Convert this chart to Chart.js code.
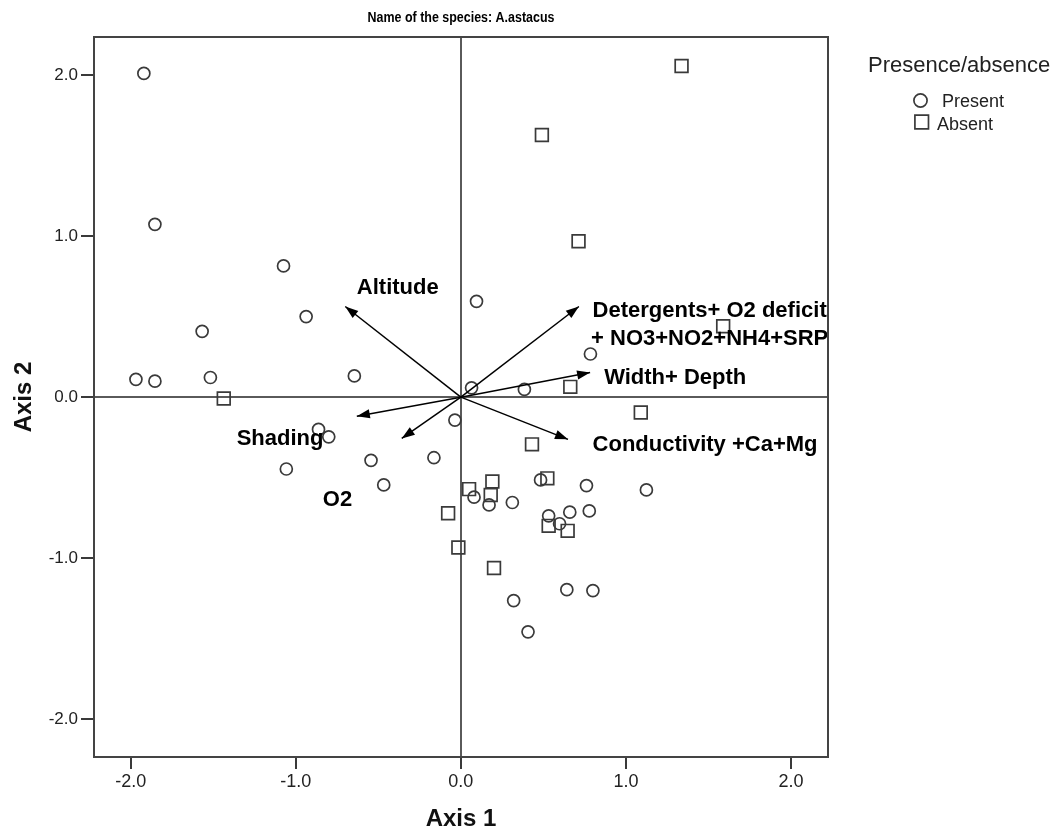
<!DOCTYPE html>
<html>
<head>
<meta charset="utf-8">
<script src="https://cdn.jsdelivr.net/npm/chart.js@4/dist/chart.umd.min.js"></script>
<style>
  html, body { margin: 0; padding: 0; background: #fff; }
  #wrap { width: 1061px; height: 833px; }
</style>
</head>
<body>
<div id="wrap"><canvas id="c" width="1061" height="833"></canvas></div>
<script>
// ---------- data ----------
const chartTitle = 'Name of the species: A.astacus';
const xTitle = 'Axis 1';
const yTitle = 'Axis 2';
const legendTitle = 'Presence/absence';
const seriesNames = ['Present', 'Absent'];

const xTicks = [-2, -1, 0, 1, 2];
const xTickLabels = ['-2.0', '-1.0', '0.0', '1.0', '2.0'];
const yTicks = [-2, -1, 0, 1, 2];
const yTickLabels = ['-2.0', '-1.0', '0.0', '1.0', '2.0'];

const presentX = [-1.920, -1.853, -1.074, -0.937, -1.567, -1.968, -1.853, -1.517, -0.645, 0.095,
                  0.065, 0.785, 0.385, -0.036, -0.862, -0.800, -0.544, -0.163, -1.057, -0.467,
                  0.080, 0.171, 0.312, 0.483, 0.761, 1.124, 0.532, 0.660, 0.778, 0.598,
                  0.642, 0.800, 0.320, 0.407];
const presentY = [2.010, 1.073, 0.815, 0.500, 0.409, 0.111, 0.099, 0.122, 0.132, 0.595,
                  0.058, 0.268, 0.048, -0.142, -0.200, -0.246, -0.392, -0.376, -0.446, -0.545,
                  -0.621, -0.669, -0.654, -0.514, -0.549, -0.576, -0.737, -0.714, -0.706, -0.786,
                  -1.195, -1.201, -1.263, -1.457];

const absentX = [1.337, 0.491, 0.713, 1.589, 0.663, 1.090, 0.431, 0.191, 0.050, 0.181,
                 0.524, -0.077, 0.532, 0.647, -0.015, 0.201, -1.436];
const absentY = [2.056, 1.628, 0.968, 0.440, 0.064, -0.095, -0.293, -0.524, -0.571, -0.607,
                 -0.504, -0.721, -0.799, -0.830, -0.933, -1.061, -0.008];

// environmental vectors (from origin)
const vectorNames = ['Altitude', 'Detergents', 'Width+Depth', 'Conductivity', 'Shading', 'O2'];
const vectorX = [-0.700, 0.715, 0.783, 0.649, -0.630, -0.358];
const vectorY = [0.563, 0.563, 0.153, -0.262, -0.118, -0.256];

// vector labels: text lines and anchor (left edge, middle of capitals) in axis units
const vectorLabelLines = [
  ['Altitude'],
  ['Detergents+ O2 deficit', '+ NO3+NO2+NH4+SRP'],
  ['Width+ Depth'],
  ['Conductivity +Ca+Mg'],
  ['Shading'],
  ['O2']
];
const vectorLabelX = [-0.630, 0.798, 0.868, 0.798, -1.358, -0.836];
const vectorLabelY = [0.687, 0.546, 0.131, -0.283, -0.250, -0.629];

// ---------- chart ----------
const SANS = "'Liberation Sans', Arial, Helvetica, sans-serif";
const MARK = '#3a3a3a';

const toPts = (xs, ys) => xs.map((v, i) => ({ x: v, y: ys[i] }));

const vectorDatasets = vectorNames.map((n, i) => ({
  label: n,
  type: 'line',
  data: [{ x: 0, y: 0 }, { x: vectorX[i], y: vectorY[i] }],
  showLine: true,
  borderColor: '#000',
  borderWidth: 1.5,
  pointRadius: 0,
  fill: false,
  order: 0
}));

const decorPlugin = {
  id: 'decor',
  afterDatasetsDraw(chart) {
    const { ctx, scales: { x, y } } = chart;
    ctx.save();
    // arrowheads
    vectorNames.forEach((n, i) => {
      const meta = chart.getDatasetMeta(2 + i);
      const p0 = meta.data[0], p1 = meta.data[1];
      const ang = Math.atan2(p1.y - p0.y, p1.x - p0.x);
      const L = 13, W = 4.6;
      const c = Math.cos(ang), s = Math.sin(ang);
      ctx.fillStyle = '#000';
      ctx.beginPath();
      ctx.moveTo(p1.x, p1.y);
      ctx.lineTo(p1.x - L * c + W * s, p1.y - L * s - W * c);
      ctx.lineTo(p1.x - L * c - W * s, p1.y - L * s + W * c);
      ctx.closePath();
      ctx.fill();
    });
    // vector labels
    const fs = 22;
    ctx.font = 'bold ' + fs + 'px ' + SANS;
    ctx.fillStyle = '#000';
    ctx.textAlign = 'left';
    ctx.textBaseline = 'alphabetic';
    vectorLabelLines.forEach((lines, i) => {
      const px = x.getPixelForValue(vectorLabelX[i]);
      const py = y.getPixelForValue(vectorLabelY[i]);
      lines.forEach((t, k) => {
        ctx.fillText(t, px - (k > 0 ? 1.5 : 0), py + 0.36 * fs + k * 27.5);
      });
    });
    ctx.restore();
  },
  afterDraw(chart) {
    const { ctx, chartArea: a } = chart;
    ctx.save();
    // frame
    ctx.strokeStyle = '#444';
    ctx.lineWidth = 2;
    ctx.strokeRect(a.left, a.top, a.right - a.left, a.bottom - a.top);
    // title (condensed bold), centred over the plot area
    ctx.save();
    ctx.font = 'bold 15px ' + SANS;
    ctx.fillStyle = '#000';
    ctx.textAlign = 'center';
    ctx.textBaseline = 'middle';
    const cx = (a.left + a.right) / 2;
    ctx.translate(cx, 18);
    ctx.scale(0.83, 1);
    ctx.fillText(chartTitle, 0, 0);
    ctx.restore();
    // legend
    ctx.textAlign = 'left';
    ctx.textBaseline = 'alphabetic';
    ctx.fillStyle = '#222';
    ctx.font = '22px ' + SANS;
    ctx.fillText(legendTitle, 868, 72);
    ctx.strokeStyle = MARK;
    ctx.lineWidth = 1.7;
    ctx.fillStyle = 'rgba(0,0,0,0)';
    Chart.helpers.drawPoint(ctx, { pointStyle: 'circle', radius: 6.6, borderWidth: 1.7 }, 920.5, 100.5);
    Chart.helpers.drawPoint(ctx, { pointStyle: 'rect', radius: 9.6, borderWidth: 1.7 }, 921.7, 122);
    ctx.fillStyle = '#222';
    ctx.font = '18px ' + SANS;
    ctx.fillText(seriesNames[0], 942, 106.5);
    ctx.fillText(seriesNames[1], 937, 129.5);
    ctx.restore();
  }
};

new Chart(document.getElementById('c'), {
  type: 'scatter',
  data: {
    datasets: [
      {
        label: seriesNames[0],
        data: toPts(presentX, presentY),
        pointStyle: 'circle',
        pointRadius: 6,
        borderColor: MARK,
        borderWidth: 1.7,
        backgroundColor: 'rgba(0,0,0,0)',
        order: 1
      },
      {
        label: seriesNames[1],
        data: toPts(absentX, absentY),
        pointStyle: 'rect',
        pointRadius: 9,
        borderColor: MARK,
        borderWidth: 1.7,
        backgroundColor: 'rgba(0,0,0,0)',
        order: 1
      },
      ...vectorDatasets
    ]
  },
  options: {
    responsive: false,
    animation: false,
    events: [],
    layout: { padding: { left: 0, right: 233, top: 37, bottom: 0 } },
    plugins: {
      legend: { display: false },
      tooltip: { enabled: false },
      title: { display: false }
    },
    scales: {
      x: {
        type: 'linear',
        position: 'bottom',
        min: -2.222,
        max: 2.224,
        afterBuildTicks: s => { s.ticks = xTicks.map(v => ({ value: v })); },
        afterFit: s => { s.height = 76; },
        ticks: {
          autoSkip: false,
          maxRotation: 0,
          padding: 2,
          color: '#222',
          font: { family: SANS, size: 18 },
          callback: (v, i) => xTickLabels[i]
        },
        grid: {
          drawOnChartArea: true,
          color: c => (c.tick && c.tick.value === 0) ? '#5a5a5a' : 'rgba(0,0,0,0)',
          lineWidth: 2,
          tickColor: '#3a3a3a',
          tickWidth: 2,
          tickLength: 12
        },
        border: { display: false },
        title: {
          display: true,
          text: xTitle,
          color: '#111',
          font: { family: SANS, size: 24, weight: 'bold', lineHeight: 1.1 },
          padding: { top: 0, bottom: 0 }
        }
      },
      y: {
        type: 'linear',
        position: 'left',
        min: -2.234,
        max: 2.236,
        afterBuildTicks: s => { s.ticks = yTicks.map(v => ({ value: v })); },
        afterFit: s => { s.width = 94; },
        ticks: {
          autoSkip: false,
          padding: 3,
          color: '#222',
          font: { family: SANS, size: 17 },
          callback: (v, i) => yTickLabels[i]
        },
        grid: {
          drawOnChartArea: true,
          color: c => (c.tick && c.tick.value === 0) ? '#5a5a5a' : 'rgba(0,0,0,0)',
          lineWidth: 2,
          tickColor: '#3a3a3a',
          tickWidth: 2,
          tickLength: 13
        },
        border: { display: false },
        title: {
          display: true,
          text: yTitle,
          color: '#111',
          font: { family: SANS, size: 24, weight: 'bold', lineHeight: 1.1 },
          padding: { top: 11, bottom: 0 }
        }
      }
    }
  },
  plugins: [decorPlugin]
});
</script>
</body>
</html>
